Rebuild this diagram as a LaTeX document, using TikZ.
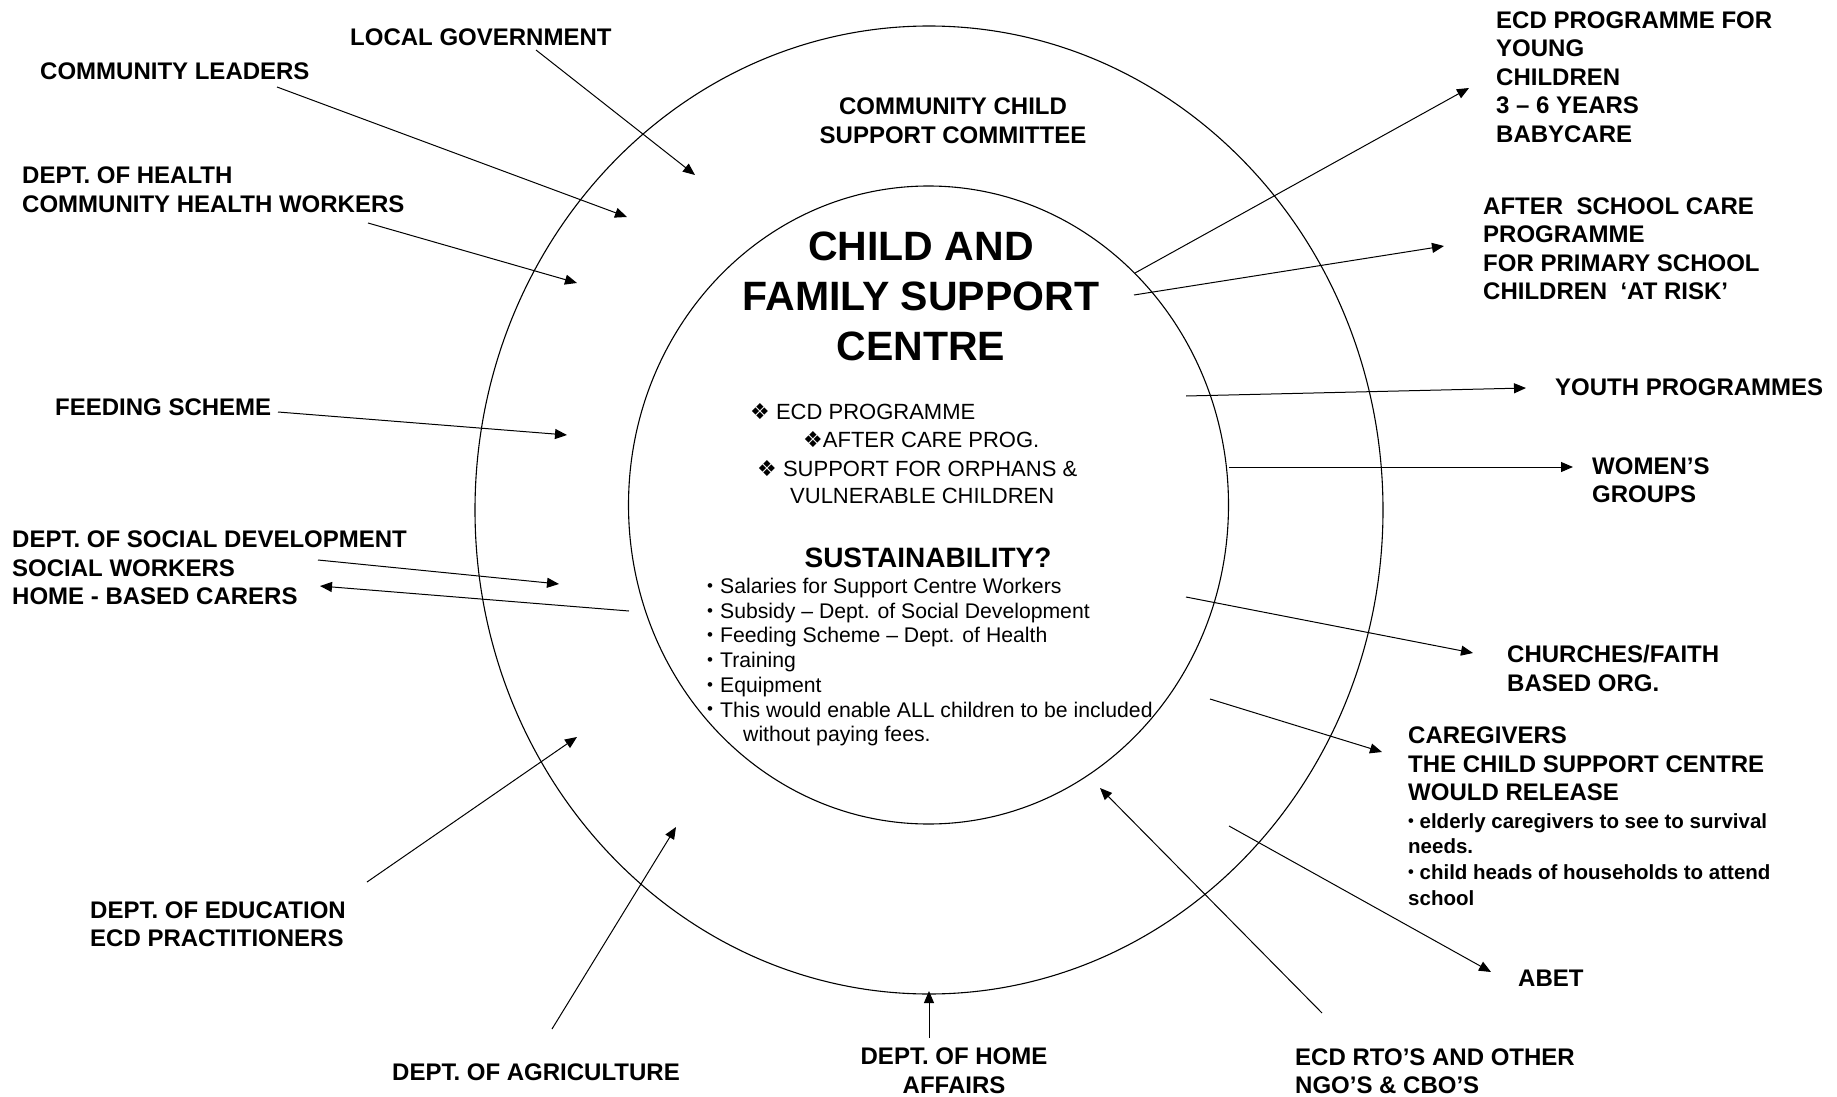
\documentclass[tikz,border=0pt]{standalone}
\usepackage{fontspec}
\usepackage{graphicx}
\setmainfont{Liberation Sans}
\newfontfamily\symfont{DejaVu Sans}
\usetikzlibrary{arrows.meta,shapes.geometric}
\newcommand\dia{{\symfont ❖}}
\newcommand\sbul{\raisebox{0.1em}{\scalebox{0.8}{•}}}
\begin{document}
\begin{tikzpicture}[x=1pt,y=-1pt,
  lbl/.style={font=\fontsize{24}{28.5}\selectfont\bfseries, inner sep=0pt, align=left, anchor=north west},
  pline/.style={font=\fontsize{22}{28}\selectfont, inner sep=0pt, anchor=base west},
  arr/.style={-{Triangle[length=12pt,width=10pt]}, line width=1pt},
  ring/.style={draw, ellipse, line width=1.1pt, inner sep=0pt, outer sep=0pt}]
\useasboundingbox (0,0) rectangle (1837,1097);
% rings
\node[ring, minimum width=908pt, minimum height=968pt] (outer) at (929,510) {};
\node[ring, minimum width=600pt, minimum height=638pt] (inner) at (928.5,505) {};

% centre texts
\node[lbl, align=center, anchor=north] (committee) at (953,98) {COMMUNITY CHILD\\SUPPORT COMMITTEE};
\node[lbl, font=\fontsize{41}{50}\selectfont\bfseries, align=center, anchor=north] (title) at (921,232) {CHILD AND\\FAMILY SUPPORT\\CENTRE};
\node[pline] (pb1) at (750,419) {\dia\ ECD PROGRAMME};
\node[pline] (pb2) at (803,447) {\dia AFTER CARE PROG.};
\node[pline] (pb3) at (757,476) {\dia\ SUPPORT FOR ORPHANS \&};
\node[pline] (pb4) at (790,503) {VULNERABLE CHILDREN};
\node[inner sep=0pt, anchor=base, font=\fontsize{28}{30}\selectfont\bfseries] (sust) at (928,567) {SUSTAINABILITY?};
\node[lbl, font=\fontsize{21.2}{24.7}\selectfont] (sustlist) at (707,578) {\sbul\hspace{7pt}Salaries for Support Centre Workers\\
\sbul\hspace{7pt}Subsidy – Dept. of Social Development\\
\sbul\hspace{7pt}Feeding Scheme – Dept. of Health\\
\sbul\hspace{7pt}Training\\
\sbul\hspace{7pt}Equipment\\
\sbul\hspace{7pt}This would enable ALL children to be included\\
\hspace*{36pt}without paying fees.};

% outer labels, left side
\node[lbl] (localgov) at (350,28.5) {LOCAL GOVERNMENT};
\node[lbl] (leaders) at (40,62.5) {COMMUNITY LEADERS};
\node[lbl] (health) at (22,167) {DEPT. OF HEALTH\\COMMUNITY HEALTH WORKERS};
\node[lbl] (feeding) at (55,399) {FEEDING SCHEME};
\node[lbl] (socdev) at (12,531) {DEPT. OF SOCIAL DEVELOPMENT\\SOCIAL WORKERS\\HOME - BASED CARERS};
\node[lbl] (education) at (90,901.5) {DEPT. OF EDUCATION\\ECD PRACTITIONERS};
\node[lbl] (agric) at (392,1063.5) {DEPT. OF AGRICULTURE};
\node[lbl, align=center, anchor=north] (home) at (954,1048) {DEPT. OF HOME\\AFFAIRS};
\node[lbl] (ngo) at (1295,1048.5) {ECD RTO’S AND OTHER\\NGO’S \& CBO’S};

% outer labels, right side
\node[lbl] (ecdprog) at (1496,11.5) {ECD PROGRAMME FOR\\YOUNG\\CHILDREN\\3 – 6 YEARS\\BABYCARE};
\node[lbl] (afterschool) at (1483,197.5) {AFTER\ \ SCHOOL CARE\\PROGRAMME\\FOR PRIMARY SCHOOL\\CHILDREN\ \ ‘AT RISK’};
\node[lbl] (youth) at (1555,378.5) {YOUTH PROGRAMMES};
\node[lbl] (women) at (1592,457.5) {WOMEN’S\\GROUPS};
\node[lbl] (churches) at (1507,645) {CHURCHES/FAITH\\BASED ORG.};
\node[lbl] (caregivers) at (1408,727) {CAREGIVERS\\THE CHILD SUPPORT CENTRE\\WOULD RELEASE};
\node[lbl, font=\fontsize{20.5}{25.7}\selectfont\bfseries] (carenote) at (1408,813) {\sbul\ elderly caregivers to see to survival\\needs.\\\sbul\ child heads of households to attend\\school};
\node[lbl] (abet) at (1518,969.5) {ABET};

% connector ends
\coordinate (lgA) at (536,50);   \coordinate (lgB) at (695,175);
\coordinate (clA) at (277,87);   \coordinate (clB) at (627,217);
\coordinate (dhA) at (368,223);  \coordinate (dhB) at (577,283);
\coordinate (fsA) at (278,412);  \coordinate (fsB) at (567,435);
\coordinate (sdA) at (318,560);  \coordinate (sdB) at (559,584);
\coordinate (hbA) at (629,611);  \coordinate (hbB) at (320,586);
\coordinate (edA) at (367,882);  \coordinate (edB) at (577,737);
\coordinate (agA) at (552,1029); \coordinate (agB) at (676,827);
\coordinate (haA) at (929,1038); \coordinate (haB) at (929,991);
\coordinate (ngA) at (1322,1013);\coordinate (ngB) at (1100,788);
\coordinate (abA) at (1229,826); \coordinate (abB) at (1491,972);
\coordinate (cgA) at (1210,699); \coordinate (cgB) at (1382,752);
\coordinate (chA) at (1186,597); \coordinate (chB) at (1473,653);
\coordinate (wgA) at (1229,467); \coordinate (wgB) at (1573,467);
\coordinate (ypA) at (1186,396); \coordinate (ypB) at (1526,388);
\coordinate (asA) at (1134,295); \coordinate (asB) at (1444,246);
\coordinate (ecA) at (1135,273); \coordinate (ecB) at (1469,88);

% connectors
\draw[arr] (lgA) -- (lgB);
\draw[arr] (clA) -- (clB);
\draw[arr] (dhA) -- (dhB);
\draw[arr] (fsA) -- (fsB);
\draw[arr] (sdA) -- (sdB);
\draw[arr] (hbA) -- (hbB);
\draw[arr] (edA) -- (edB);
\draw[arr] (agA) -- (agB);
\draw[arr] (haA) -- (haB);
\draw[arr] (ngA) -- (ngB);
\draw[arr] (abA) -- (abB);
\draw[arr] (cgA) -- (cgB);
\draw[arr] (chA) -- (chB);
\draw[arr] (wgA) -- (wgB);
\draw[arr] (ypA) -- (ypB);
\draw[arr] (asA) -- (asB);
\draw[arr] (ecA) -- (ecB);
\end{tikzpicture}
\end{document}
